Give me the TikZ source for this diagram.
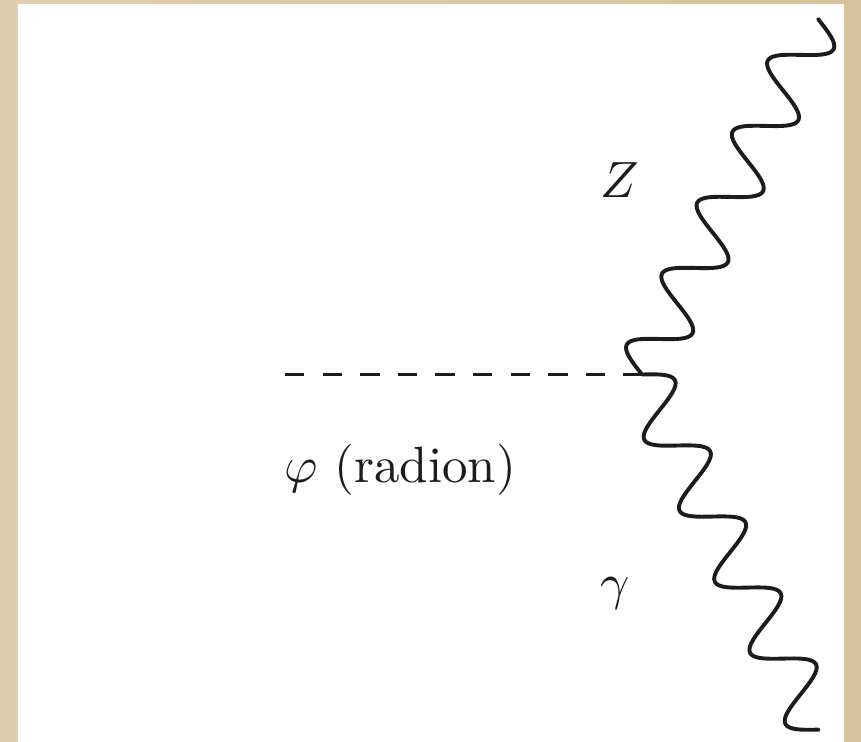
\documentclass[tikz,border=0pt]{standalone}
\usetikzlibrary{decorations}
\definecolor{paperL}{HTML}{E0CDB0}
\definecolor{paperR}{HTML}{D8C29C}
\definecolor{ink}{HTML}{1C1C1C}
\pgfdeclaredecoration{sinewave}{wave}{
  \state{wave}[width=\pgfdecorationsegmentlength]{
    \pgfpathsine{\pgfpoint{0.25\pgfdecorationsegmentlength}{\pgfdecorationsegmentamplitude}}
    \pgfpathcosine{\pgfpoint{0.25\pgfdecorationsegmentlength}{-\pgfdecorationsegmentamplitude}}
    \pgfpathsine{\pgfpoint{0.25\pgfdecorationsegmentlength}{-\pgfdecorationsegmentamplitude}}
    \pgfpathcosine{\pgfpoint{0.25\pgfdecorationsegmentlength}{\pgfdecorationsegmentamplitude}}
  }
  \state{final}{\pgfpathlineto{\pgfpointdecoratedpathlast}}
}
\tikzset{
  photon/.style={draw=ink, line width=3.9pt, line cap=round, line join=round,
    decorate, decoration={sinewave, segment length=79.3pt, amplitude=27pt}},
  scalar/.style={draw=ink, line width=3.6pt, dash pattern=on 19.3pt off 18.3pt},
  lbl/.style={text=ink, inner sep=0pt}
}
\newcommand{\bigtxt}[1]{\scalebox{5.1}{#1}}
\begin{document}
\begin{tikzpicture}[x=1pt, y=-1pt]
  \useasboundingbox (0,0) rectangle (861,741);
  \shade[left color=paperL, right color=paperR] (0,0) rectangle (861,741);
  \fill[white] (18,4) rectangle (844,746);
  \coordinate (v) at (642,374.5);
  \coordinate (s) at (285,374.5);
  \coordinate (z) at (818.5,19);
  \coordinate (g) at (818.5,730);
  \draw[scalar] (s) -- (v);
  \draw[photon] (v) -- (z);
  \draw[photon] (v) -- (g);
  \node[lbl, anchor=base] (zl) at (620,197) {\bigtxt{$Z$}};
  \node[lbl, anchor=base] (gl) at (615,599) {\bigtxt{$\gamma$}};
  \node[lbl, anchor=base west] (rl) at (284,482) {\bigtxt{$\varphi$ (radion)}};
\end{tikzpicture}
\end{document}
